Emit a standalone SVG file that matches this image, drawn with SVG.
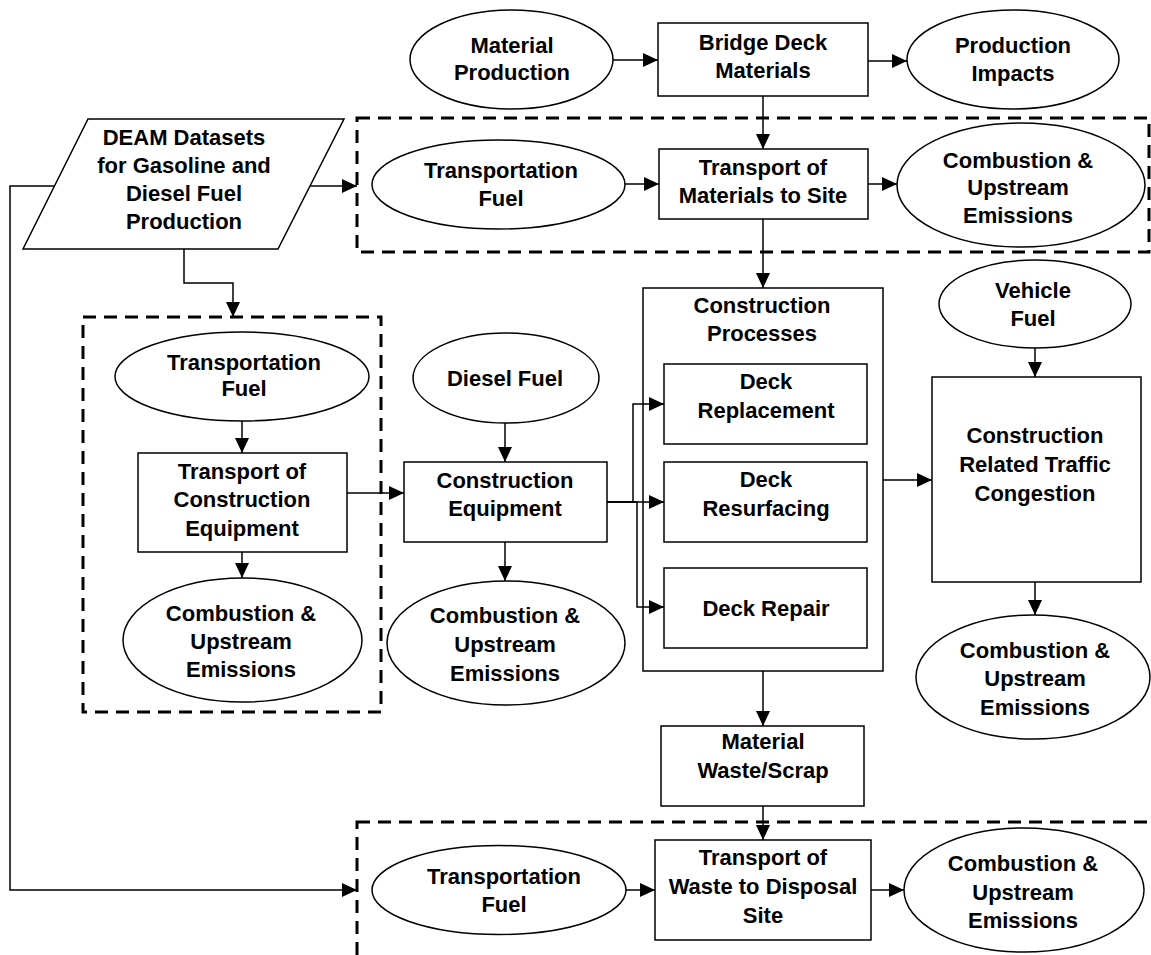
<svg xmlns="http://www.w3.org/2000/svg" width="1151" height="955" viewBox="0 0 1151 955">
  <style>
    .n { fill: #fff; stroke: #000; stroke-width: 1.5; }
    .t { font-family: "Liberation Sans", Arial, sans-serif; font-weight: bold; font-size: 22px; text-anchor: middle; fill: #000; }
    .c { fill: none; stroke: #000; stroke-width: 1.5; marker-end: url(#arrow); }
    .d { fill: none; stroke: #000; stroke-width: 3; stroke-dasharray: 13 8; }
  </style>
  <defs>
    <marker id="arrow" markerUnits="userSpaceOnUse" markerWidth="16" markerHeight="14" refX="15" refY="7" orient="auto">
      <path d="M0,0 L15,7 L0,14 Z" fill="#000"/>
    </marker>
  </defs>
  <rect width="1151" height="955" fill="#fff"/>

  <!-- dashed grouping frames -->
  <g id="frames">
    <rect class="d" x="357" y="118" width="792" height="134"/>
    <rect class="d" x="83" y="317" width="298" height="395"/>
    <rect class="d" x="357" y="822" width="820" height="160"/>
  </g>

  <g id="deam">
    <polygon class="n" points="88,119 344,119 278,249 23,249"/>
    <text class="t" x="184" y="145">DEAM Datasets</text>
    <text class="t" x="184" y="173">for Gasoline and</text>
    <text class="t" x="184" y="201">Diesel Fuel</text>
    <text class="t" x="184" y="229">Production</text>
  </g>

  <g id="material-production">
    <ellipse class="n" cx="511.5" cy="59.5" rx="101.5" ry="49.5"/>
    <text class="t" x="512" y="53">Material</text>
    <text class="t" x="512" y="80">Production</text>
  </g>

  <g id="bridge-deck-materials">
    <rect class="n" x="658" y="23" width="210" height="73"/>
    <text class="t" x="763" y="50">Bridge Deck</text>
    <text class="t" x="763" y="78">Materials</text>
  </g>

  <g id="production-impacts">
    <ellipse class="n" cx="1013" cy="59.5" rx="106" ry="49.5"/>
    <text class="t" x="1013" y="53">Production</text>
    <text class="t" x="1013" y="81">Impacts</text>
  </g>

  <g id="fuel-materials">
    <ellipse class="n" cx="498.5" cy="184.5" rx="126.5" ry="44.5"/>
    <text class="t" x="501" y="178">Transportation</text>
    <text class="t" x="501" y="206">Fuel</text>
  </g>

  <g id="transport-materials">
    <rect class="n" x="659" y="149" width="209" height="70"/>
    <text class="t" x="763" y="175">Transport of</text>
    <text class="t" x="763" y="203">Materials to Site</text>
  </g>

  <g id="emissions-materials">
    <ellipse class="n" cx="1021" cy="185" rx="124" ry="62"/>
    <text class="t" x="1018" y="168">Combustion &amp;</text>
    <text class="t" x="1018" y="195">Upstream</text>
    <text class="t" x="1018" y="223">Emissions</text>
  </g>

  <g id="fuel-equipment">
    <ellipse class="n" cx="242" cy="376.5" rx="127" ry="44.5"/>
    <text class="t" x="244" y="370">Transportation</text>
    <text class="t" x="244" y="396">Fuel</text>
  </g>

  <g id="transport-equipment">
    <rect class="n" x="138" y="453" width="209" height="99"/>
    <text class="t" x="242" y="479">Transport of</text>
    <text class="t" x="242" y="507">Construction</text>
    <text class="t" x="242" y="536">Equipment</text>
  </g>

  <g id="emissions-equipment-transport">
    <ellipse class="n" cx="242.5" cy="640" rx="119.5" ry="62"/>
    <text class="t" x="241" y="621">Combustion &amp;</text>
    <text class="t" x="241" y="649">Upstream</text>
    <text class="t" x="241" y="677">Emissions</text>
  </g>

  <g id="diesel-fuel">
    <ellipse class="n" cx="506" cy="378" rx="93" ry="45"/>
    <text class="t" x="505" y="386">Diesel Fuel</text>
  </g>

  <g id="construction-equipment">
    <rect class="n" x="404" y="462" width="203" height="80"/>
    <text class="t" x="505" y="488">Construction</text>
    <text class="t" x="505" y="516">Equipment</text>
  </g>

  <g id="emissions-equipment">
    <ellipse class="n" cx="506" cy="643" rx="119" ry="62"/>
    <text class="t" x="505" y="623">Combustion &amp;</text>
    <text class="t" x="505" y="652">Upstream</text>
    <text class="t" x="505" y="681">Emissions</text>
  </g>

  <g id="construction-processes">
    <rect class="n" x="643" y="288" width="240" height="383"/>
    <text class="t" x="762" y="313">Construction</text>
    <text class="t" x="762" y="341">Processes</text>
  </g>

  <g id="deck-replacement">
    <rect class="n" x="664" y="364" width="203" height="80"/>
    <text class="t" x="766" y="389">Deck</text>
    <text class="t" x="766" y="418">Replacement</text>
  </g>

  <g id="deck-resurfacing">
    <rect class="n" x="664" y="462" width="203" height="80"/>
    <text class="t" x="766" y="487">Deck</text>
    <text class="t" x="766" y="516">Resurfacing</text>
  </g>

  <g id="deck-repair">
    <rect class="n" x="664" y="568" width="203" height="80"/>
    <text class="t" x="766" y="616">Deck Repair</text>
  </g>

  <g id="vehicle-fuel">
    <ellipse class="n" cx="1035" cy="304" rx="96" ry="44"/>
    <text class="t" x="1033" y="298">Vehicle</text>
    <text class="t" x="1033" y="326">Fuel</text>
  </g>

  <g id="traffic-congestion">
    <rect class="n" x="932" y="377" width="209" height="205"/>
    <text class="t" x="1035" y="443">Construction</text>
    <text class="t" x="1035" y="472">Related Traffic</text>
    <text class="t" x="1035" y="501">Congestion</text>
  </g>

  <g id="emissions-traffic">
    <ellipse class="n" cx="1033" cy="677" rx="117" ry="62"/>
    <text class="t" x="1035" y="658">Combustion &amp;</text>
    <text class="t" x="1035" y="686">Upstream</text>
    <text class="t" x="1035" y="715">Emissions</text>
  </g>

  <g id="material-waste">
    <rect class="n" x="661" y="726" width="203" height="80"/>
    <text class="t" x="763" y="749">Material</text>
    <text class="t" x="763" y="778">Waste/Scrap</text>
  </g>

  <g id="fuel-waste">
    <ellipse class="n" cx="499" cy="890" rx="127" ry="44.5"/>
    <text class="t" x="504" y="884">Transportation</text>
    <text class="t" x="504" y="912">Fuel</text>
  </g>

  <g id="transport-waste">
    <rect class="n" x="655" y="840" width="216" height="100"/>
    <text class="t" x="763" y="865">Transport of</text>
    <text class="t" x="763" y="894">Waste to Disposal</text>
    <text class="t" x="763" y="923">Site</text>
  </g>

  <g id="emissions-waste">
    <ellipse class="n" cx="1024" cy="890" rx="120" ry="62"/>
    <text class="t" x="1023" y="871">Combustion &amp;</text>
    <text class="t" x="1023" y="900">Upstream</text>
    <text class="t" x="1023" y="928">Emissions</text>
  </g>

  <!-- connectors, drawn over the nodes so branches inside containers stay visible -->
  <g id="connectors">
    <path class="c" d="M613,60 H658"/>
    <path class="c" d="M868,61 H907"/>
    <path class="c" d="M763,96 V149"/>
    <path class="c" d="M625,184 H659"/>
    <path class="c" d="M868,184 H897"/>
    <path class="c" d="M310,186 H357"/>
    <path class="c" d="M54,186 H10 V890 H357"/>
    <path class="c" d="M184,249 V283 H233 V317"/>
    <path class="c" d="M242,421 V453"/>
    <path class="c" d="M242,552 V578"/>
    <path class="c" d="M347,493 H404"/>
    <path class="c" d="M505,423 V462"/>
    <path class="c" d="M505,542 V581"/>
    <path class="c" d="M607,502 H664"/>
    <path class="c" d="M607,502 H633 V404 H664"/>
    <path class="c" d="M607,502 H637 V607 H664"/>
    <path class="c" d="M763,219 V288"/>
    <path class="c" d="M883,480 H932"/>
    <path class="c" d="M1035,348 V377"/>
    <path class="c" d="M1035,582 V615"/>
    <path class="c" d="M763,671 V726"/>
    <path class="c" d="M763,806 V840"/>
    <path class="c" d="M626,890 H655"/>
    <path class="c" d="M871,890 H904"/>
  </g>
</svg>
